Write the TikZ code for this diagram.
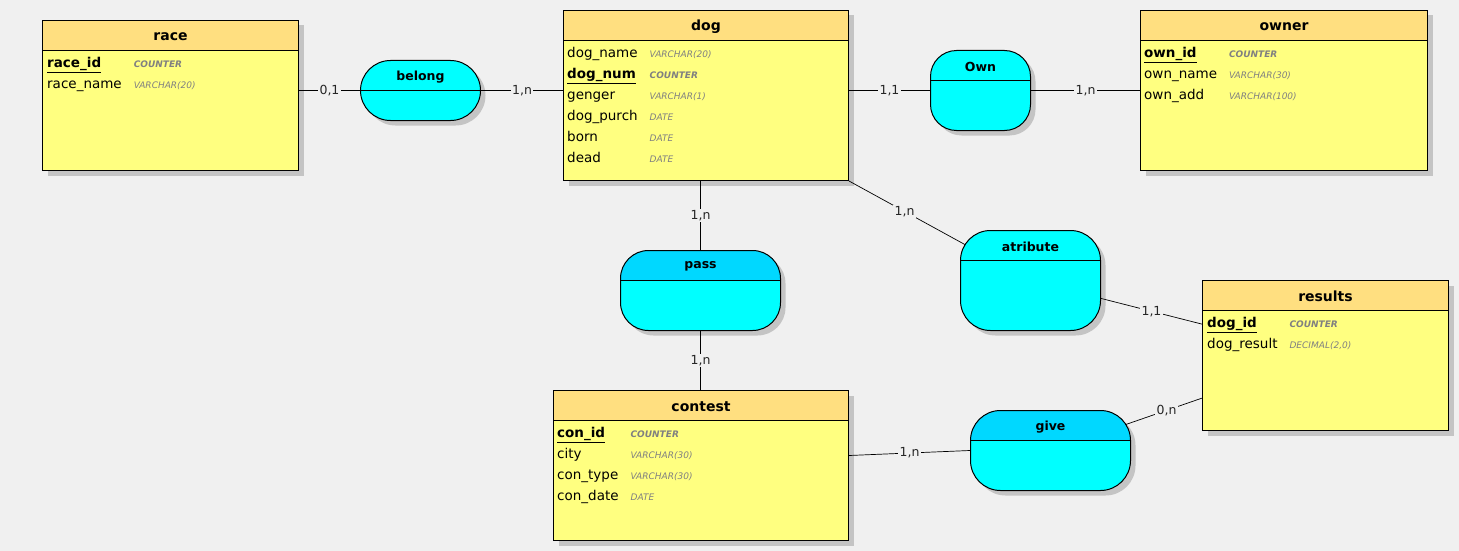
\documentclass[tikz,border=0pt]{standalone}
\usepackage{fontspec}
\setmainfont{DejaVu Sans}
\usepackage{tikz}
\usetikzlibrary{positioning,shadows}

\definecolor{bgcol}{HTML}{F0F0F0}
\definecolor{enthead}{HTML}{FFDF80}
\definecolor{entbody}{HTML}{FFFF80}
\definecolor{relbody}{HTML}{00FFFF}
\definecolor{relhead}{HTML}{00D8FF}
\definecolor{shade}{HTML}{C4C4C4}
\definecolor{typegray}{HTML}{808080}

\newcommand{\ty}[1]{{\fontsize{9}{10}\selectfont\itshape\color{typegray}#1}}
\newcommand{\tyk}[1]{{\fontsize{9}{10}\selectfont\itshape\bfseries\color{typegray}#1}}
\newcommand{\pk}[1]{\underline{\textbf{#1}}}

\tikzset{
  entity/.style={draw, line width=1pt, fill=entbody, anchor=north west, inner sep=0pt,
    drop shadow={shadow xshift=5pt, shadow yshift=-5pt, fill=shade, opacity=1},
    path picture={
      \fill[enthead, sharp corners] (path picture bounding box.north west) rectangle ([yshift=-30pt]path picture bounding box.north east);
      \draw[line width=1pt] ([yshift=-30pt]path picture bounding box.north west) -- ([yshift=-30pt]path picture bounding box.north east);}},
  rel/.style={draw, line width=1pt, fill=relbody, anchor=north west, inner sep=0pt, rounded corners=28pt,
    drop shadow={shadow xshift=5pt, shadow yshift=-5pt, fill=shade, opacity=1},
    path picture={
      \draw[line width=1pt, sharp corners] ([yshift=-30pt]path picture bounding box.north west) -- ([yshift=-30pt]path picture bounding box.north east);}},
  relsel/.style={rel,
    path picture={
      \fill[relhead, sharp corners] (path picture bounding box.north west) rectangle ([yshift=-30pt]path picture bounding box.north east);
      \draw[line width=1pt, sharp corners] ([yshift=-30pt]path picture bounding box.north west) -- ([yshift=-30pt]path picture bounding box.north east);}},
  etitle/.style={anchor=north, minimum height=33pt, inner sep=0pt, font=\fontsize{14}{16}\selectfont\bfseries},
  rtitle/.style={anchor=north, minimum height=33pt, inner sep=0pt, font=\fontsize{12.5}{14}\selectfont\bfseries},
  attrs/.style={inner sep=0pt, font=\fontsize{13.5}{21}\selectfont},
  card/.style={fill=bgcol, inner sep=1.5pt, text=black!85, font=\fontsize{12.5}{14}\selectfont},
  conn/.style={draw, line width=0.7pt}
}

\begin{document}
\begin{tikzpicture}[x=1pt,y=-1pt]
\fill[bgcol] (0,0) rectangle (1459,551);

% entities
\node[entity, minimum width=256pt, minimum height=150pt, label={[etitle]north:race}] (race) at (42,20) {};
\node[entity, minimum width=285pt, minimum height=170pt, label={[etitle]north:dog}] (dog) at (563,10) {};
\node[entity, minimum width=287pt, minimum height=160pt, label={[etitle]north:owner}] (owner) at (1140,10) {};
\node[entity, minimum width=295pt, minimum height=150pt, label={[etitle]north:contest}] (contest) at (553,390) {};
\node[entity, minimum width=246pt, minimum height=150pt, label={[etitle]north:results}] (results) at (1202,280) {};

\node[attrs, below right=33pt and 5pt of race.north west] (race-cols) {\begin{tabular}{@{}l@{\hspace{12pt}}l@{}}
\pk{race\_id} & \tyk{COUNTER}\\
race\_name & \ty{VARCHAR(20)}
\end{tabular}};
\node[attrs, below right=33pt and 4pt of dog.north west] (dog-cols) {\begin{tabular}{@{}l@{\hspace{12pt}}l@{}}
dog\_name & \ty{VARCHAR(20)}\\
\pk{dog\_num} & \tyk{COUNTER}\\
genger & \ty{VARCHAR(1)}\\
dog\_purch & \ty{DATE}\\
born & \ty{DATE}\\
dead & \ty{DATE}
\end{tabular}};
\node[attrs, below right=33pt and 4pt of owner.north west] (owner-cols) {\begin{tabular}{@{}l@{\hspace{12pt}}l@{}}
\pk{own\_id} & \tyk{COUNTER}\\
own\_name & \ty{VARCHAR(30)}\\
own\_add & \ty{VARCHAR(100)}
\end{tabular}};
\node[attrs, below right=33pt and 4pt of contest.north west] (contest-cols) {\begin{tabular}{@{}l@{\hspace{12pt}}l@{}}
\pk{con\_id} & \tyk{COUNTER}\\
city & \ty{VARCHAR(30)}\\
con\_type & \ty{VARCHAR(30)}\\
con\_date & \ty{DATE}
\end{tabular}};
\node[attrs, below right=33pt and 5pt of results.north west] (results-cols) {\begin{tabular}{@{}l@{\hspace{12pt}}l@{}}
\pk{dog\_id} & \tyk{COUNTER}\\
dog\_result & \ty{DECIMAL(2,0)}
\end{tabular}};

% relationships
\node[rel, minimum width=120pt, minimum height=60pt, rounded corners=30pt, label={[rtitle]north:belong}] (belong) at (360,60) {};
\node[rel, minimum width=100pt, minimum height=80pt, rounded corners=26pt, label={[rtitle]north:Own}] (Own) at (930,50) {};
\node[relsel, minimum width=160pt, minimum height=80pt, label={[rtitle]north:pass}] (pass) at (620,250) {};
\node[rel, minimum width=140pt, minimum height=100pt, rounded corners=30pt, label={[rtitle]north:atribute}] (atribute) at (960,230) {};
\node[relsel, minimum width=160pt, minimum height=80pt, rounded corners=30pt, label={[rtitle]north:give}] (give) at (970,410) {};

\path[conn]
(belong.west -| race.east) edge [] node [card] {0,1} (belong.west)
(belong.east) edge [] node [card] {1,n} (belong.east -| dog.west)
(Own.west -| dog.east) edge [] node [card] {1,1} (Own.west)
(Own.east) edge [] node [card] {1,n} (Own.east -| owner.west)
(pass.north |- dog.south) edge [] node [card] {1,n} (pass.north)
(pass.south) edge [] node [card] {1,n} (pass.south |- contest.north)
(dog.south east) edge [shorten >=-6pt] node [card] {1,n} (atribute)
(atribute) edge [] node [card] {1,1} (results)
([yshift=10pt]contest.east) edge [] node [card] {1,n} (give.west)
(give) edge [shorten <=-6pt] node [card] {0,n} (results)
;
\end{tikzpicture}
\end{document}
